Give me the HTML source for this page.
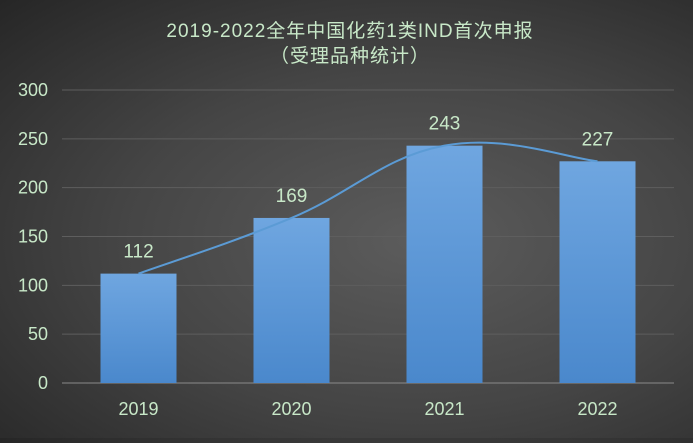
<!DOCTYPE html>
<html><head><meta charset="utf-8"><style>
html,body{margin:0;padding:0;}
body{width:693px;height:438px;overflow:hidden;background:radial-gradient(ellipse at 60% 55%,#5c5c5c 0%,#454545 50%,#262626 100%);font-family:"Liberation Sans","Noto Sans CJK SC",sans-serif;}
</style></head><body>
<svg width="693" height="438" xmlns="http://www.w3.org/2000/svg">
<defs><linearGradient id="bg" x1="0" y1="0" x2="0" y2="1"><stop offset="0" stop-color="#6fa6e0"/><stop offset="1" stop-color="#4a88cc"/></linearGradient></defs>
<text x="350" y="37" text-anchor="middle" font-size="19" fill="#c8e8c8" letter-spacing="1" font-family="Liberation Sans,Noto Sans CJK SC,sans-serif">2019-2022全年中国化药1类IND首次申报</text>
<text x="350" y="62" text-anchor="middle" font-size="19" fill="#c8e8c8" letter-spacing="1" font-family="Liberation Sans,Noto Sans CJK SC,sans-serif">（受理品种统计）</text>
<g id="grid"></g><g id="bars"></g><g id="labels"></g><path id="line" fill="none" stroke="#5b9bd5" stroke-width="2"/>
</svg>
<script>
const categories=["2019","2020","2021","2022"];
const values=[112,169,243,227];
const yTicks=[0,50,100,150,200,250,300];
const X0=62,X1=674,Y0=383,Y1=90,YMAX=300;
const band=(X1-X0)/categories.length;
const xc=i=>X0+band*(i+0.5);
const y=v=>Y0-(v/YMAX)*(Y0-Y1);
const NS="http://www.w3.org/2000/svg";
function mk(tag,attrs,parent,text){const e=document.createElementNS(NS,tag);for(const k in attrs)e.setAttribute(k,attrs[k]);if(text!==undefined)e.textContent=text;document.getElementById(parent).appendChild(e);return e;}
yTicks.forEach(t=>{
  const l=mk('line',{x1:X0,x2:X1,y1:y(t),y2:y(t),stroke:t===0?'#8a8a8a':'#5e5e5e','stroke-width':1},'grid');
  
  
  const tx=mk('text',{x:48,y:y(t)+6,'text-anchor':'end','font-size':18,fill:'#c8e8c8'},'grid',String(t));
  
  
});
const bw=76;
categories.forEach((c,i)=>{
  const r=mk('rect',{x:xc(i)-bw/2,y:y(values[i]),width:bw,height:Y0-y(values[i]),fill:'url(#bg)'},'bars');
  
  
  const v=mk('text',{x:xc(i),y:y(values[i])-16,'text-anchor':'middle','font-size':19,fill:'#c8e8c8'},'labels',String(values[i]));
  
  
  const t=mk('text',{x:xc(i),y:415,'text-anchor':'middle','font-size':18,fill:'#c8e8c8'},'labels',c);
  
  
});
const pts=values.map((v,i)=>[xc(i),y(v)]);
const k=5;
let d='M'+pts[0][0]+','+pts[0][1];
for(let i=0;i<pts.length-1;i++){
  const p0=pts[i-1]||pts[i],p1=pts[i],p2=pts[i+1],p3=pts[i+2]||p2;
  const c1=[p1[0]+(p2[0]-p0[0])/k,p1[1]+(p2[1]-p0[1])/k];
  const c2=[p2[0]-(p3[0]-p1[0])/k,p2[1]-(p3[1]-p1[1])/k];
  d+=' C'+c1+' '+c2+' '+p2;
}
document.getElementById('line').setAttribute('d',d);
</script>
</body></html>
